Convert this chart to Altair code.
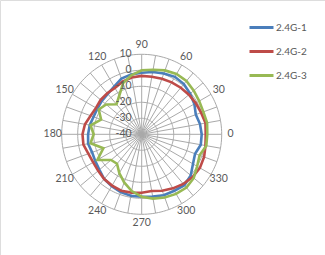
import altair as alt
import pandas as pd
import numpy as np

# ---- data ----
angles = list(range(0, 360, 10))
s1 = [-2.5, -3, -4, -2, -0.5, 1, 1.5, 0.5, -0.5, -1.5, -2, -3, -5.5, -7, -7.5, -8, -8, -7,
      -6.5, -6, -7, -6.5, -5.5, -3.5, -2.5, -1.5, -1, -1, -0.5, 0.5, 0.8, 1.5, 0, -3, -4.5, -2.5]
s2 = [0, 0.5, -0.5, -1, -1.5, -2, -2.5, -3, -3.5, -3.5, -4, -5, -6.5, -6.5, -6.5, -7, -6, -4,
      -3, -3, -4.5, -5, -4.5, -3.5, -3, -2.5, -3, -3.5, -4, -2.5, -1, 0.5, 1.5, 2, 1.5, 0.5]
s3 = [1, 1.5, 1, 1.5, 2.5, 3.5, 3.5, 2.5, 1, 0, -2.5, -6, -12, -15.5, -11, -9, -13, -7.5,
      -10, -7.5, -14.5, -8, -15, -16, -12, -8, -4, -1, 0.8, 2, 3, 3.5, 2.5, 0, -1.5, 1]
series_names = ["2.4G-1", "2.4G-2", "2.4G-3"]
colors = ["#4a7ebb", "#be4b48", "#98b954"]
ring_levels = [-30, -20, -10, 0, 10]
radial_labels = [10, 0, -10, -20, -30, -40]
angle_labels = list(range(0, 360, 30))
spoke_angles = list(range(0, 360, 10))
r_min, r_max = -40, 10

# ---- geometry of the canvas (pixels) ----
W, H = 325, 255
cx, cy, R = 141.7, 134.3, 80.0
ppu = R / (r_max - r_min)
xdom = [-cx / ppu, (W - cx) / ppu]
ydom = [-(H - cy) / ppu, cy / ppu]

xs = alt.Scale(domain=xdom, nice=False, zero=False)
ys = alt.Scale(domain=ydom, nice=False, zero=False)

df = pd.DataFrame({
    "angle": angles * 3,
    "value": s1 + s2 + s3,
    "series": [n for n in series_names for _ in angles],
})

ring_df = pd.DataFrame([(lv, a) for lv in ring_levels for a in np.arange(0, 360, 2)],
                       columns=["level", "angle"])
spoke_df = pd.DataFrame({"angle": spoke_angles})
alab_df = pd.DataFrame({"angle": angle_labels, "label": [str(a) for a in angle_labels]})
rlab_df = pd.DataFrame({"level": radial_labels, "label": [str(v) for v in radial_labels]})

rad = "datum.angle*PI/180"
grid_color = "#a9a9a9"
text_color = "#595959"
font = "Lato"

rings = alt.Chart(ring_df).mark_line(
    interpolate="linear-closed", color=grid_color, strokeWidth=1
).transform_calculate(
    r=f"datum.level - ({r_min})"
).transform_calculate(
    x=f"datum.r*cos({rad})", y=f"datum.r*sin({rad})"
).encode(
    x=alt.X("x:Q", scale=xs, axis=None),
    y=alt.Y("y:Q", scale=ys, axis=None),
    detail="level:N",
    order="angle:Q",
)

spokes = alt.Chart(spoke_df).mark_rule(color=grid_color, strokeWidth=1).transform_calculate(
    x0="0", y0="0",
    x1=f"{r_max - r_min}*cos({rad})", y1=f"{r_max - r_min}*sin({rad})",
).encode(
    x=alt.X("x0:Q", scale=xs, axis=None),
    y=alt.Y("y0:Q", scale=ys, axis=None),
    x2="x1:Q", y2="y1:Q",
)

alabels = alt.Chart(alab_df).mark_text(
    font=font, fontSize=10.5, color=text_color, align="center", baseline="middle"
).transform_calculate(
    x=f"55.6*cos({rad})", y=f"55.6*sin({rad})"
).encode(
    x=alt.X("x:Q", scale=xs, axis=None),
    y=alt.Y("y:Q", scale=ys, axis=None),
    text="label:N",
)

rlabels = alt.Chart(rlab_df).mark_text(
    font=font, fontSize=10.5, color=text_color, align="right", baseline="middle", dx=-10
).transform_calculate(
    x="0", y=f"datum.level - ({r_min})"
).encode(
    x=alt.X("x:Q", scale=xs, axis=None),
    y=alt.Y("y:Q", scale=ys, axis=None),
    text="label:N",
)

lines = alt.Chart(df).mark_line(
    interpolate="linear-closed", strokeWidth=2.6
).transform_calculate(
    r=f"datum.value - ({r_min})"
).transform_calculate(
    x=f"datum.r*cos({rad})", y=f"datum.r*sin({rad})"
).encode(
    x=alt.X("x:Q", scale=xs, axis=None),
    y=alt.Y("y:Q", scale=ys, axis=None),
    color=alt.Color(
        "series:N",
        scale=alt.Scale(domain=series_names, range=colors),
        legend=alt.Legend(
            title=None, orient="none", legendX=248, legendY=14,
            symbolType="stroke", symbolSize=576, symbolStrokeWidth=3,
            labelFont=font, labelFontSize=10, labelColor=text_color,
            labelOffset=1, rowPadding=4, padding=0,
        ),
    ),
    order="angle:Q",
)

chart = alt.layer(rings, spokes, lines, alabels, rlabels).properties(
    width=W, height=H, padding=0,
    autosize=alt.AutoSizeParams(type="none"),
).configure_view(strokeWidth=0).configure(background="white")

chart.save("out.html", embed_options={"renderer": "svg", "actions": False})
